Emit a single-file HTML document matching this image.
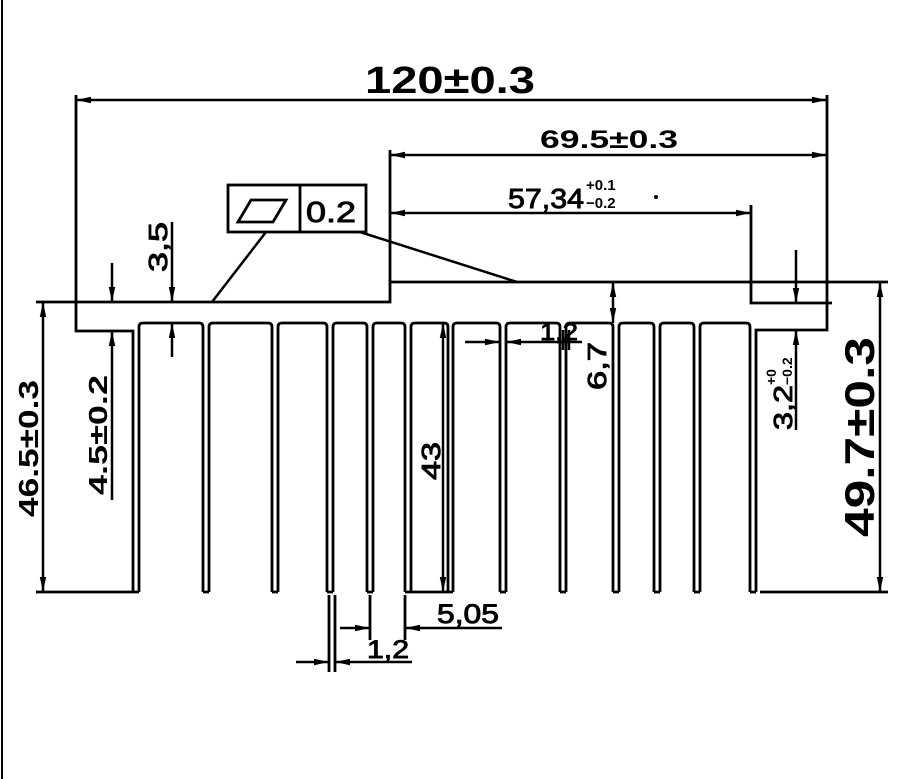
<!DOCTYPE html>
<html><head><meta charset="utf-8"><style>
html,body{margin:0;padding:0;background:#fff;}
svg{display:block;}
text{font-family:"Liberation Sans",sans-serif;fill:#000;}
.t{stroke:#000;stroke-width:0.9;}
</style></head><body>
<svg width="909" height="779" viewBox="0 0 909 779" xmlns="http://www.w3.org/2000/svg">
<defs>
<marker id="a" viewBox="0 0 14 6" refX="14" refY="3" markerWidth="15" markerHeight="7" markerUnits="userSpaceOnUse" orient="auto-start-reverse">
<path d="M0,0 L14,3 L0,6 Z" fill="#000"/>
</marker>
</defs>
<rect x="0" y="0" width="909" height="779" fill="#fff"/>
<line x1="2" y1="0" x2="2" y2="779" stroke="#000" stroke-width="2"/>
<g stroke="#000" stroke-width="2.8" fill="none">
<path d="M76,95 V331 H133 V592"/>
<path d="M36,302 H390 V282 H888"/>
<path d="M390,150 V282"/>
<path d="M751,205 V303 H832"/>
<path d="M827,95 V330 H756 V592"/>
<path d="M139,592 V327 Q139,323 143,323 H199 Q203,323 203,327 V592"/>
<path d="M209,592 V327 Q209,323 213,323 H268 Q272,323 272,327 V592"/>
<path d="M278,592 V327 Q278,323 282,323 H323 Q327,323 327,327 V592"/>
<path d="M333,592 V327 Q333,323 337,323 H363 Q367,323 367,327 V592"/>
<path d="M373,592 V327 Q373,323 377,323 H401 Q405,323 405,327 V592"/>
<path d="M411,592 V327 Q411,323 415,323 H444 Q448,323 448,327 V592"/>
<path d="M453,592 V327 Q453,323 457,323 H496 Q500,323 500,327 V592"/>
<path d="M506,592 V327 Q506,323 510,323 H556 Q560,323 560,327 V592"/>
<path d="M566,592 V327 Q566,323 570,323 H609 Q613,323 613,327 V592"/>
<path d="M619,592 V327 Q619,323 623,323 H650 Q654,323 654,327 V592"/>
<path d="M660,592 V327 Q660,323 664,323 H690 Q694,323 694,327 V592"/>
<path d="M700,592 V327 Q700,323 704,323 H746 Q750,323 750,327 V592"/>
<path d="M133,592H139 M203,592H209 M272,592H278 M327,592H333 M367,592H373 M405,592H411 M448,592H453 M500,592H506 M560,592H566 M613,592H619 M654,592H660 M694,592H700 M750,592H756"/>
<path d="M36,592 H133 M760,592 H888 M411,592 H448"/>
<path d="M329,595 V672 M335,595 V672 M370,595 V640 M405,595 V640"/>
</g>
<g stroke="#000" stroke-width="2.5" fill="none">
<line x1="76" y1="100" x2="827" y2="100" marker-start="url(#a)" marker-end="url(#a)"/>
<line x1="390" y1="155" x2="827" y2="155" marker-start="url(#a)" marker-end="url(#a)"/>
<line x1="390" y1="213" x2="751" y2="213" marker-start="url(#a)" marker-end="url(#a)"/>
<line x1="43" y1="302" x2="43" y2="592" marker-start="url(#a)" marker-end="url(#a)"/>
<line x1="112" y1="263" x2="112" y2="302" marker-end="url(#a)"/>
<line x1="112" y1="500" x2="112" y2="331" marker-end="url(#a)"/>
<line x1="172" y1="222" x2="172" y2="302" marker-end="url(#a)"/>
<line x1="172" y1="357" x2="172" y2="323" marker-end="url(#a)"/>
<line x1="443" y1="323" x2="443" y2="592" marker-start="url(#a)" marker-end="url(#a)"/>
<line x1="613" y1="282" x2="613" y2="323" marker-start="url(#a)" marker-end="url(#a)"/>
<line x1="796" y1="250" x2="796" y2="303" marker-end="url(#a)"/>
<line x1="796" y1="430" x2="796" y2="330" marker-end="url(#a)"/>
<line x1="880" y1="282" x2="880" y2="592" marker-start="url(#a)" marker-end="url(#a)"/>
<line x1="465" y1="342" x2="500" y2="342" marker-end="url(#a)"/>
<line x1="582" y1="342" x2="506" y2="342" marker-end="url(#a)"/>
<line x1="563" y1="330" x2="563" y2="350"/>
<line x1="569" y1="330" x2="569" y2="350"/>
<line x1="340" y1="628" x2="370" y2="628" marker-end="url(#a)"/>
<line x1="502" y1="628" x2="405" y2="628" marker-end="url(#a)"/>
<line x1="296" y1="662" x2="329" y2="662" marker-end="url(#a)"/>
<line x1="412" y1="662" x2="335" y2="662" marker-end="url(#a)"/>
<rect x="228" y="185" width="138" height="47" stroke-width="2.8"/>
<line x1="300" y1="185" x2="300" y2="232" stroke-width="2.8"/>
<path d="M238,222 L251,200 L286,200 L273,222 Z" stroke-width="2.8"/>
<line x1="266" y1="232" x2="212" y2="302"/>
<line x1="360" y1="232" x2="517" y2="282"/>
</g>
<circle cx="656" cy="197" r="2" fill="#000"/>
<text x="365" y="93" font-size="38" font-weight="bold" textLength="170" lengthAdjust="spacingAndGlyphs">120±0.3</text>
<text x="540" y="148" font-size="25" font-weight="bold" textLength="138" lengthAdjust="spacingAndGlyphs">69.5±0.3</text>
<text class="t" x="508" y="208" font-size="28" textLength="76" lengthAdjust="spacingAndGlyphs">57,34</text>
<text x="586" y="190" font-size="15" font-weight="bold">+0.1</text>
<text x="586" y="208" font-size="15" font-weight="bold">−0.2</text>
<text class="t" x="306" y="222" font-size="29" textLength="50" lengthAdjust="spacingAndGlyphs">0.2</text>
<text transform="translate(38,517) rotate(-90)" font-size="28" font-weight="bold" textLength="137" lengthAdjust="spacingAndGlyphs">46.5±0.3</text>
<text transform="translate(107,495) rotate(-90)" font-size="26" font-weight="bold" textLength="120" lengthAdjust="spacingAndGlyphs">4.5±0.2</text>
<text class="t" transform="translate(167,272) rotate(-90)" font-size="26" textLength="50" lengthAdjust="spacingAndGlyphs">3,5</text>
<text class="t" transform="translate(440,480) rotate(-90)" font-size="26" textLength="38" lengthAdjust="spacingAndGlyphs">43</text>
<text class="t" transform="translate(606,390) rotate(-90)" font-size="26" textLength="48" lengthAdjust="spacingAndGlyphs">6,7</text>
<text class="t" x="540" y="340" font-size="24" textLength="38" lengthAdjust="spacingAndGlyphs">1,2</text>
<text class="t" x="437" y="623" font-size="27" textLength="62" lengthAdjust="spacingAndGlyphs">5,05</text>
<text class="t" x="367" y="658" font-size="25" textLength="42" lengthAdjust="spacingAndGlyphs">1,2</text>
<text class="t" transform="translate(792,430) rotate(-90)" font-size="26" textLength="45" lengthAdjust="spacingAndGlyphs">3,2</text>
<text transform="translate(776,385) rotate(-90)" font-size="14" font-weight="bold">+0</text>
<text transform="translate(792,385) rotate(-90)" font-size="14" font-weight="bold">−0.2</text>
<text transform="translate(874,537) rotate(-90)" font-size="42" font-weight="bold" textLength="200" lengthAdjust="spacingAndGlyphs">49.7±0.3</text>
</svg>
</body></html>
